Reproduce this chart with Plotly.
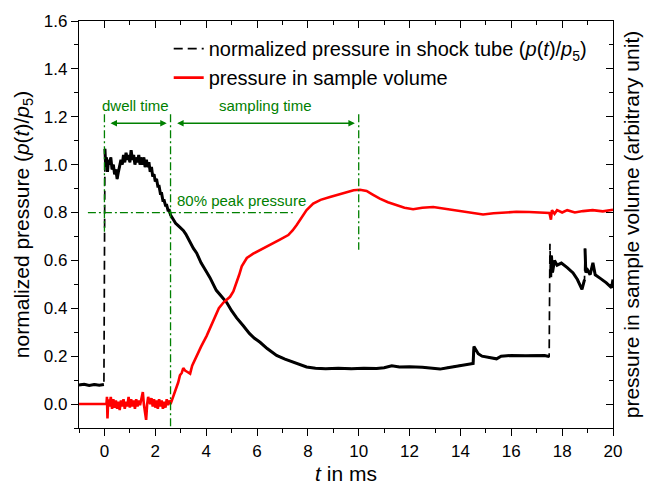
import plotly.graph_objects as go

# ---------------- data ----------------
t_tube = [-1.0, -0.8, -0.6, -0.4, -0.2, -0.02, 0.02, 0.05, 0.08, 0.12, 0.16, 0.2, 0.25, 0.3, 0.35,
          0.4, 0.45, 0.5, 0.55, 0.6, 0.65, 0.7, 0.75, 0.8, 0.85, 0.9, 0.95, 1.0, 1.05, 1.1, 1.15,
          1.2, 1.25, 1.3, 1.35, 1.4, 1.45, 1.5, 1.55, 1.6, 1.65, 1.7, 1.75, 1.8, 1.85, 1.9, 1.95,
          2.0, 2.05, 2.1, 2.15, 2.2, 2.25, 2.3, 2.35, 2.4, 2.45, 2.5, 2.55, 2.6, 2.7, 2.8, 2.9,
          3.0, 3.1, 3.2, 3.3, 3.4, 3.5, 3.63, 3.8, 4.0, 4.15, 4.4, 4.6, 4.81, 5.0, 5.2, 5.46,
          5.7, 5.9, 6.12, 6.4, 6.77, 7.1, 7.43, 7.7, 7.95, 8.3, 8.7, 9.2, 9.7, 10.2, 10.7, 11.0,
          11.3, 11.6, 12.0, 12.5, 13.0, 13.2, 13.5, 13.8, 14.1, 14.44, 14.5, 14.53, 14.6, 14.7,
          14.85, 15.02, 15.2, 15.42, 15.6, 16.0, 16.5, 17.0, 17.3, 17.49, 17.52, 17.55, 17.58,
          17.62, 17.7, 17.8, 17.97, 18.2, 18.43, 18.6, 18.78, 18.88, 18.9, 18.93, 19.0, 19.1,
          19.21, 19.3, 19.5, 19.74, 19.94, 20.0]
p_tube = [0.080, 0.083, 0.078, 0.082, 0.079, 0.082, 1.066, 0.99, 1.03, 0.97, 1.02, 1.00, 1.03, 0.98, 1.00,
          0.96, 0.98, 0.94, 0.97, 0.99, 1.02, 1.00, 1.04, 1.01, 1.05, 1.02, 1.04, 1.01, 1.06, 1.02, 1.04,
          1.00, 1.03, 1.01, 1.04, 1.00, 1.03, 1.00, 1.03, 0.99, 1.02, 0.99, 1.01, 0.97, 0.99, 0.95, 0.96,
          0.93, 0.94, 0.91, 0.91, 0.88, 0.88, 0.85, 0.85, 0.83, 0.83, 0.81, 0.81, 0.79, 0.77, 0.755, 0.745,
          0.735, 0.725, 0.71, 0.69, 0.665, 0.65, 0.63, 0.59, 0.555, 0.528, 0.475, 0.45, 0.424, 0.39, 0.36, 0.327,
          0.295, 0.275, 0.258, 0.232, 0.203, 0.188, 0.175, 0.163, 0.155, 0.150, 0.148, 0.150, 0.148, 0.150, 0.149, 0.152,
          0.160, 0.155, 0.156, 0.154, 0.148, 0.146, 0.152, 0.158, 0.163, 0.168, 0.170, 0.240, 0.225, 0.210,
          0.200, 0.196, 0.192, 0.189, 0.200, 0.203, 0.202, 0.204, 0.203, 0.199, 0.670, 0.530, 0.620,
          0.550, 0.600, 0.580, 0.589, 0.570, 0.548, 0.520, 0.479, 0.520, 0.650, 0.550, 0.560, 0.540,
          0.590, 0.540, 0.525, 0.506, 0.486, 0.520]

t_sample = [-1.0, -0.5, 0.0, 0.08, 0.1, 0.12, 0.15, 0.2, 0.25, 0.3, 0.35, 0.4, 0.45, 0.5, 0.55, 0.6,
            0.65, 0.7, 0.75, 0.8, 0.85, 0.9, 0.95, 1.0, 1.05, 1.1, 1.15, 1.2, 1.25, 1.3, 1.35, 1.4,
            1.45, 1.51, 1.55, 1.6, 1.64, 1.68, 1.72, 1.8, 1.85, 1.9, 1.95, 2.0, 2.05, 2.1, 2.15, 2.2,
            2.25, 2.3, 2.35, 2.4, 2.45, 2.5, 2.55, 2.6, 2.7, 2.78, 2.9, 2.97, 3.04, 3.1, 3.17, 3.25,
            3.37, 3.45, 3.55, 3.63, 3.8, 4.02, 4.2, 4.35, 4.5, 4.68, 4.81, 4.94, 5.07, 5.2, 5.3, 5.4,
            5.5, 5.6, 5.85, 6.12, 6.4, 6.64, 6.9, 7.23, 7.4, 7.56, 7.75, 7.95, 8.21, 8.5, 8.87, 9.2,
            9.52, 9.8, 10.05, 10.31, 10.55, 10.83, 11.15, 11.49, 11.8, 12.14, 12.5, 12.93, 13.3, 13.71,
            14.2, 14.63, 14.89, 15.3, 15.8, 16.2, 16.7, 17.2, 17.5, 17.56, 17.6, 17.7, 17.8, 18.0,
            18.2, 18.5, 18.82, 19.2, 19.6, 20.0]
p_sample = [0.0, 0.0, 0.002, 0.0, 0.03, -0.06, 0.02, -0.01, 0.03, -0.02, 0.02, -0.015, 0.015, -0.02, 0.01, -0.025,
            0.015, -0.01, 0.02, -0.02, 0.01, -0.01, 0.03, -0.015, 0.02, -0.01, 0.015, -0.02, 0.02, -0.01, 0.015, -0.005,
            0.02, 0.05, 0.0, -0.03, -0.066, 0.0, 0.03, 0.0, 0.025, -0.01, 0.02, -0.015, 0.015, -0.02, 0.02, -0.01,
            0.015, -0.02, 0.01, -0.015, 0.02, -0.005, 0.015, 0.0, 0.03, 0.05, 0.09, 0.12, 0.13, 0.15, 0.14, 0.135,
            0.127, 0.16, 0.185, 0.203, 0.24, 0.285, 0.33, 0.368, 0.40, 0.424, 0.435, 0.448, 0.47, 0.506, 0.54, 0.575,
            0.595, 0.61, 0.628, 0.644, 0.658, 0.672, 0.687, 0.706, 0.725, 0.748, 0.78, 0.81, 0.837, 0.853, 0.865, 0.875,
            0.885, 0.893, 0.895, 0.89, 0.875, 0.858, 0.843, 0.83, 0.82, 0.814, 0.82, 0.823, 0.817, 0.81,
            0.805, 0.798, 0.792, 0.797, 0.80, 0.803, 0.802, 0.80, 0.798, 0.77, 0.81, 0.795, 0.81, 0.80,
            0.81, 0.80, 0.806, 0.81, 0.805, 0.812]

x_tick_vals = [0, 2, 4, 6, 8, 10, 12, 14, 16, 18, 20]
x_tick_text = ["0", "2", "4", "6", "8", "10", "12", "14", "16", "18", "20"]
y_tick_vals = [0.0, 0.2, 0.4, 0.6, 0.8, 1.0, 1.2, 1.4, 1.6]
y_tick_text = ["0.0", "0.2", "0.4", "0.6", "0.8", "1.0", "1.2", "1.4", "1.6"]

# annotation guide values (ms / normalized pressure)
t_start, t_dwell_end, t_sampling_end = 0.0, 2.6, 10.0
peak_fraction = 0.8
guide_top = 1.21
x_range = [-1, 20]
y_range = [-0.1, 1.6]

GREEN = "#008000"
FONT = "Liberation Sans, Arial, sans-serif"

# solid overlay of the noisy shock-tube trace, broken at the fast jumps
xs, ys = [], []
for i, (t, p) in enumerate(zip(t_tube, p_tube)):
    if i > 0 and abs(p - p_tube[i - 1]) > 0.1:
        xs.append(None); ys.append(None)
    xs.append(t); ys.append(p)

fig = go.Figure()
fig.add_trace(go.Scatter(
    x=t_tube, y=p_tube, mode="lines", legendgroup="a",
    name="normalized pressure in shock tube (<i>p</i>(<i>t</i>)/<i>p</i><sub>5</sub>)",
    line=dict(color="black", width=1.7, dash="9px,5px")))
fig.add_trace(go.Scatter(
    x=xs, y=ys, mode="lines", legendgroup="a", showlegend=False, hoverinfo="skip",
    line=dict(color="black", width=3.0)))
fig.add_trace(go.Scatter(
    x=t_sample, y=p_sample, mode="lines", xaxis="x2", yaxis="y2", legendgroup="b",
    name="pressure in sample volume",
    line=dict(color="#ff0000", width=2.6)))

dashdot = "8px,3px,2px,3px"
shapes = [
    dict(type="line", xref="x", yref="y", x0=t_start, x1=t_start, y0=guide_top, y1=0.72,
         line=dict(color=GREEN, width=1.3, dash=dashdot)),
    dict(type="line", xref="x", yref="y", x0=t_dwell_end, x1=t_dwell_end, y0=guide_top, y1=y_range[0],
         line=dict(color=GREEN, width=1.3, dash=dashdot)),
    dict(type="line", xref="x", yref="y", x0=t_sampling_end, x1=t_sampling_end, y0=guide_top, y1=0.645,
         line=dict(color=GREEN, width=1.3, dash=dashdot)),
    dict(type="line", xref="x", yref="y", x0=-0.65, x1=7.5, y0=peak_fraction, y1=peak_fraction,
         line=dict(color=GREEN, width=1.3, dash=dashdot)),
]

arrow_y = 1.173
annotations = [
    dict(x=2.45, y=arrow_y, ax=0.18, ay=arrow_y, xref="x", yref="y", axref="x", ayref="y",
         text="", showarrow=True, arrowhead=2, arrowside="end+start", arrowsize=1,
         arrowwidth=1.3, arrowcolor=GREEN, standoff=0, startstandoff=0),
    dict(x=9.85, y=arrow_y, ax=2.8, ay=arrow_y, xref="x", yref="y", axref="x", ayref="y",
         text="", showarrow=True, arrowhead=2, arrowside="end+start", arrowsize=1,
         arrowwidth=1.3, arrowcolor=GREEN, standoff=0, startstandoff=0),
    dict(x=1.23, y=1.248, xref="x", yref="y", text="dwell time", showarrow=False,
         font=dict(family=FONT, size=15, color=GREEN)),
    dict(x=6.35, y=1.248, xref="x", yref="y", text="sampling time", showarrow=False,
         font=dict(family=FONT, size=15, color=GREEN)),
    dict(x=2.78, y=0.85, xref="x", yref="y", xanchor="left", text="80% peak pressure",
         showarrow=False, font=dict(family=FONT, size=15, color=GREEN)),
]

axis_common = dict(showgrid=False, zeroline=False, showline=True, linecolor="black", linewidth=1.3,
                   tickcolor="black", tickwidth=1.3)

fig.update_layout(
    width=651, height=493,
    margin=dict(l=79, r=37, t=19, b=63),
    paper_bgcolor="white", plot_bgcolor="white",
    font=dict(family=FONT, color="black"),
    showlegend=True,
    legend=dict(x=0.168, y=0.98, xanchor="left", yanchor="top", bgcolor="rgba(0,0,0,0)",
                font=dict(family=FONT, size=20, color="black"), traceorder="grouped",
                tracegroupgap=0),
    shapes=shapes, annotations=annotations,
    xaxis=dict(range=x_range, tickvals=x_tick_vals, ticktext=x_tick_text, ticks="outside", ticklen=7,
               minor=dict(dtick=1, tick0=0, ticks="outside", ticklen=4, tickcolor="black", tickwidth=1.3),
               tickfont=dict(family=FONT, size=17),
               title=dict(text="<i>t</i> in ms", font=dict(family=FONT, size=21), standoff=6),
               **axis_common),
    yaxis=dict(range=y_range, tickvals=y_tick_vals, ticktext=y_tick_text, ticks="outside", ticklen=7,
               minor=dict(dtick=0.1, tick0=0, ticks="outside", ticklen=4, tickcolor="black", tickwidth=1.3),
               tickfont=dict(family=FONT, size=17),
               title=dict(text="normalized pressure (<i>p</i>(<i>t</i>)/<i>p</i><sub>5</sub>)",
                          font=dict(family=FONT, size=21), standoff=8),
               **axis_common),
    xaxis2=dict(range=x_range, overlaying="x", side="top", anchor="y2", tickvals=x_tick_vals,
                showticklabels=False, ticks="inside", ticklen=7,
                minor=dict(dtick=1, tick0=0, ticks="inside", ticklen=4, tickcolor="black", tickwidth=1.3),
                **axis_common),
    yaxis2=dict(range=y_range, overlaying="y", side="right", anchor="x2", tickvals=y_tick_vals,
                showticklabels=False, ticks="inside", ticklen=7,
                minor=dict(dtick=0.1, tick0=0, ticks="inside", ticklen=4, tickcolor="black", tickwidth=1.3),
                title=dict(text="pressure in sample volume (arbitrary unit)",
                           font=dict(family=FONT, size=21), standoff=11),
                **axis_common),
)

fig.write_html("out.html")
